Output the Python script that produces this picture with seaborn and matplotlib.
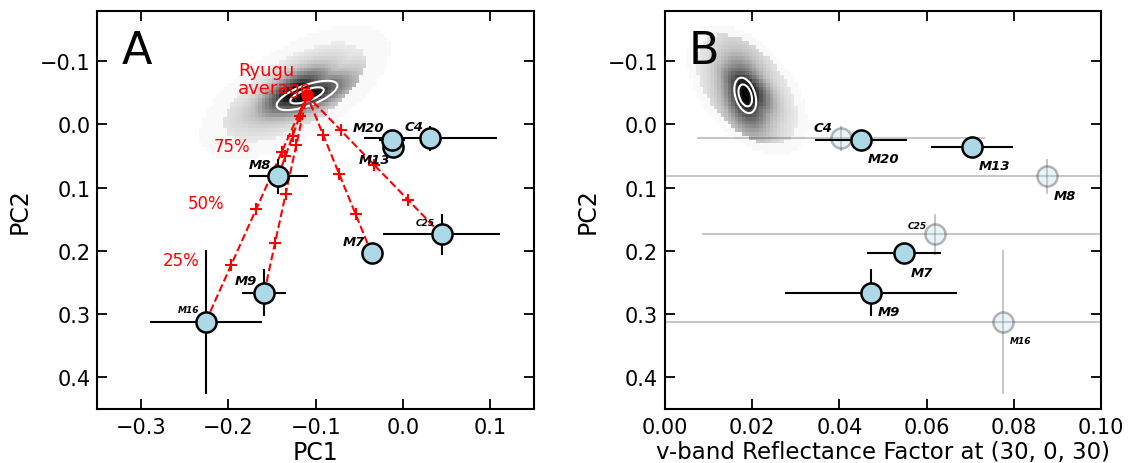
import numpy as np
import pandas as pd
import matplotlib
matplotlib.use("Agg")
import matplotlib.pyplot as plt
import seaborn as sns

# ---------------- data ----------------
names = ["C4", "M13", "M20", "M8", "C25", "M7", "M9", "M16"]
pc1 = [0.031, -0.011, -0.013, -0.143, 0.044, -0.036, -0.159, -0.226]
pc1_err = [0.076, 0.010, 0.015, 0.034, 0.067, 0.004, 0.025, 0.064]
pc2 = [0.022, 0.035, 0.024, 0.082, 0.174, 0.204, 0.266, 0.312]
pc2_err = [0.020, 0.006, 0.008, 0.028, 0.033, 0.004, 0.037, 0.114]
refl = [0.0404, 0.0704, 0.0450, 0.0876, 0.0620, 0.0548, 0.0472, 0.0775]
refl_err = [0.033, 0.0094, 0.0106, 0.095, 0.0535, 0.0084, 0.0197, 0.090]

ryugu_pc1 = -0.110
ryugu_pc2 = -0.046
ryugu_refl = 0.0184

mix_targets = ["M16", "M9", "M8", "M7", "C25"]
mix_fractions = [0.25, 0.50, 0.75]

# Ryugu pixel cloud (center, spread, correlation) and its density contours
cloudA = dict(cx=-0.124, cy=-0.051, sx=0.0245, sy=0.0238, rho=-0.63)
contA = dict(cx=ryugu_pc1, cy=ryugu_pc2, sx=0.024, sy=0.016, rho=-0.67)
cloudB = dict(cx=0.0188, cy=-0.055, sx=0.0036, sy=0.027, rho=0.50)
contB = dict(cx=ryugu_refl, cy=ryugu_pc2, sx=0.0025, sy=0.028, rho=0.35)

df = pd.DataFrame(dict(name=names, pc1=pc1, pc1_err=pc1_err, pc2=pc2,
                       pc2_err=pc2_err, refl=refl, refl_err=refl_err))
df["faded"] = df["refl_err"] / df["refl"] > 0.5

# ---------------- style ----------------
sns.set_style("white")
plt.rcParams.update({
    "font.family": ["DejaVu Sans"],
    "text.color": "black",
    "axes.labelcolor": "black",
    "axes.linewidth": 1.5,
    "axes.edgecolor": "black",
    "xtick.direction": "in", "ytick.direction": "in",
    "xtick.top": True, "ytick.right": True,
    "xtick.bottom": True, "ytick.left": True,
    "xtick.major.size": 7, "ytick.major.size": 7,
    "xtick.major.width": 1.3, "ytick.major.width": 1.3,
    "xtick.major.pad": 6, "ytick.major.pad": 5,
    "xtick.labelsize": 15, "ytick.labelsize": 15,
    "xtick.color": "black", "ytick.color": "black",
})

fig = plt.figure(figsize=(11.31, 4.64), dpi=100)
axA = fig.add_axes([0.0862, 0.1164, 0.386, 0.8584])
axB = fig.add_axes([0.588, 0.1164, 0.3855, 0.8584])

NU = 3.0


def tdens(r2):
    return (1 + r2 / NU) ** (-(NU + 2) / 2)


def mahal2(X, Y, c):
    dx = (X - c["cx"]) / c["sx"]
    dy = (Y - c["cy"]) / c["sy"]
    return (dx ** 2 - 2 * c["rho"] * dx * dy + dy ** 2) / (1 - c["rho"] ** 2)


def draw_cloud(ax, c, cc, xr, yr, xstep, ystep, rmax, levels, halo):
    xe = np.arange(xr[0], xr[1] + xstep, xstep)
    ye = np.arange(yr[0], yr[1] + ystep, ystep)
    X, Y = np.meshgrid(0.5 * (xe[1:] + xe[:-1]), 0.5 * (ye[1:] + ye[:-1]))
    r2 = mahal2(X, Y, c)
    r2c = mahal2(X, Y, cc)
    val = np.maximum(np.sqrt(tdens(r2)), tdens(r2c) ** 0.35)
    # faint outer halo of sparse pixels
    val = np.where(r2 > rmax ** 2, 0.05, val)
    val = np.ma.masked_where(r2 > (halo * rmax) ** 2, val)
    ax.pcolormesh(xe, ye, val, cmap="Greys", vmin=0.0, vmax=1.0,
                  shading="flat", zorder=1, rasterized=True)
    xf = np.linspace(xr[0], xr[1], 700)
    yf = np.linspace(yr[0], yr[1], 700)
    XF, YF = np.meshgrid(xf, yf)
    ax.contour(XF, YF, mahal2(XF, YF, cc), levels=[l ** 2 for l in levels],
               colors="white", linewidths=1.5, zorder=2)


# ---------------- panel A ----------------
axA.set_xlim(-0.35, 0.15)
axA.set_ylim(0.45, -0.18)
draw_cloud(axA, cloudA, contA, (-0.35, 0.15), (-0.18, 0.45), 0.004, 0.006,
           3.3, [0.8, 1.45], 1.35)

pos = df.set_index("name")
for t in mix_targets:
    xm, ym = pos.loc[t, "pc1"], pos.loc[t, "pc2"]
    axA.plot([xm, ryugu_pc1], [ym, ryugu_pc2], ls="--", color="red", lw=1.5, zorder=3)
    fx = [xm + f * (ryugu_pc1 - xm) for f in mix_fractions]
    fy = [ym + f * (ryugu_pc2 - ym) for f in mix_fractions]
    axA.plot(fx, fy, ls="none", marker="+", color="red", ms=8, mew=1.5, zorder=3)
    if t == "M16":
        for f, px, py in zip(mix_fractions, fx, fy):
            axA.annotate(f"{int(f * 100)}%", xy=(px, py), xytext=(-36, 4),
                         textcoords="offset points", color="red", fontsize=12,
                         ha="center", va="center", zorder=8)

axA.errorbar(df["pc1"], df["pc2"], xerr=df["pc1_err"], yerr=df["pc2_err"],
             fmt="none", ecolor="black", elinewidth=1.5, capsize=0, zorder=4)
sns.scatterplot(data=df, x="pc1", y="pc2", ax=axA, s=210, color="lightblue",
                edgecolor="black", linewidth=1.8, zorder=6, legend=False)
axA.plot(ryugu_pc1, ryugu_pc2, "o", color="red", ms=8, zorder=7)
axA.text(-0.189, -0.101, "Ryugu\naverage", color="red", fontsize=13,
         ha="left", va="top", linespacing=1.0, zorder=8)

small = {"M16": 6.5, "C25": 6.5}
offA = {"M13": (-2, -9.5)}
for _, r in df.iterrows():
    dx, dy = offA.get(r["name"], (-5, 8.6))
    axA.annotate(r["name"], xy=(r["pc1"], r["pc2"]), xytext=(dx, dy),
                 textcoords="offset points", ha="right", va="center",
                 fontsize=small.get(r["name"], 9.5), fontweight="bold",
                 style="italic", color="black", zorder=9)

axA.set_xticks([-0.3, -0.2, -0.1, 0.0, 0.1])
axA.set_yticks([-0.1, 0.0, 0.1, 0.2, 0.3, 0.4])
axA.set_xlabel("PC1", fontsize=17, labelpad=2)
axA.set_ylabel("PC2", fontsize=17, labelpad=6)
axA.text(0.055, 0.955, "A", transform=axA.transAxes, fontsize=32,
         ha="left", va="top", color="black", zorder=10)

# ---------------- panel B ----------------
axB.set_xlim(0.0, 0.10)
axB.set_ylim(0.45, -0.18)
draw_cloud(axB, cloudB, contB, (0.0, 0.10), (-0.18, 0.45), 0.0008, 0.006,
           3.2, [0.62, 1.0], 1.2)

solid = df[~df["faded"]]
faded = df[df["faded"]]
axB.errorbar(faded["refl"], faded["pc2"], xerr=faded["refl_err"], yerr=faded["pc2_err"],
             fmt="none", ecolor="black", alpha=0.22, elinewidth=1.5, capsize=0, zorder=3)
sns.scatterplot(data=faded, x="refl", y="pc2", ax=axB, s=210, color="lightblue",
                edgecolor="black", linewidth=1.8, alpha=0.28, zorder=4, legend=False)
axB.errorbar(solid["refl"], solid["pc2"], xerr=solid["refl_err"], yerr=solid["pc2_err"],
             fmt="none", ecolor="black", elinewidth=1.5, capsize=0, zorder=5)
sns.scatterplot(data=solid, x="refl", y="pc2", ax=axB, s=210, color="lightblue",
                edgecolor="black", linewidth=1.8, zorder=6, legend=False)

offB = {"C4": (-6, 7.5, "right"), "C25": (-6, 6.5, "right")}
for _, r in df.iterrows():
    dx, dy, ha = offB.get(r["name"], (5, -13.5, "left"))
    axB.annotate(r["name"], xy=(r["refl"], r["pc2"]), xytext=(dx, dy),
                 textcoords="offset points", ha=ha, va="center",
                 fontsize=small.get(r["name"], 9.5), fontweight="bold",
                 style="italic", color="black", zorder=9)

ticksB = [0.0, 0.02, 0.04, 0.06, 0.08, 0.10]
axB.set_xticks(ticksB)
axB.set_xticklabels([f"{v:.2f}" for v in ticksB])
axB.set_yticks([-0.1, 0.0, 0.1, 0.2, 0.3, 0.4])
axB.set_xlabel("v-band Reflectance Factor at (30, 0, 30)", fontsize=16.5, labelpad=2)
axB.set_ylabel("PC2", fontsize=17, labelpad=6)
axB.text(0.055, 0.955, "B", transform=axB.transAxes, fontsize=32,
         ha="left", va="top", color="black", zorder=10)

for ax in (axA, axB):
    for s in ax.spines.values():
        s.set_visible(True)
        s.set_linewidth(1.5)
        s.set_color("black")

fig.savefig("out.png", dpi=100)
